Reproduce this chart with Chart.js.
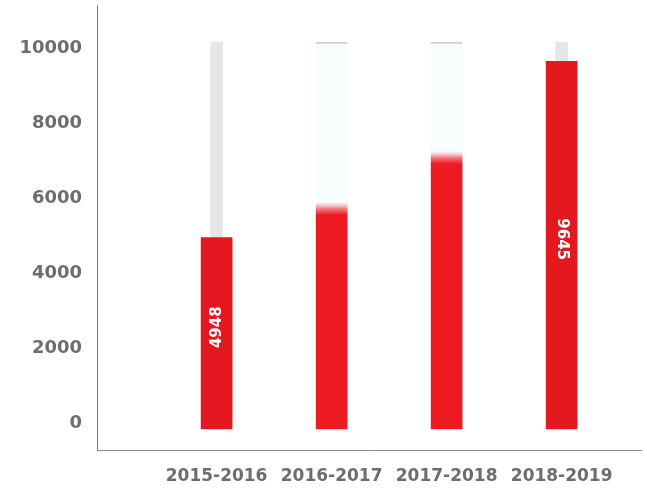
<!DOCTYPE html>
<html>
<head>
<meta charset="utf-8">
<script src="https://cdn.jsdelivr.net/npm/chart.js@4.4.1/dist/chart.umd.min.js"></script>
<style>
  html, body { margin: 0; padding: 0; background: #fff; }
  #wrap { width: 647px; height: 489px; }
</style>
</head>
<body>
<div id="wrap"><canvas id="sales-chart"></canvas></div>
<script>
const seasons = ['2015-2016', '2016-2017', '2017-2018', '2018-2019'];
const totals = [4948, 5870, 7230, 9645];
const trackTop = [10160, 10160, 10160, 10160];
const yTicks = [0, 2000, 4000, 6000, 8000, 10000];
const labelledBars = [0, 3];

const RED = '#e3191f';

// soft fade at the top edge of the middle two bars
function barFill(ctx) {
  const chart = ctx.chart;
  const i = ctx.dataIndex;
  if (!chart.chartArea || (i !== 1 && i !== 2)) return RED;
  const top = chart.scales.y.getPixelForValue(totals[i]);
  const g = chart.ctx.createLinearGradient(0, top, 0, top + 12);
  g.addColorStop(0, 'rgba(245,150,160,0.15)');
  g.addColorStop(0.5, 'rgba(240,60,70,0.7)');
  g.addColorStop(1, '#ee1a22');
  return g;
}

const valueLabels = {
  id: 'valueLabels',
  afterDatasetsDraw(chart) {
    const meta = chart.getDatasetMeta(2);
    const c = chart.ctx;
    labelledBars.forEach(i => {
      const bar = meta.data[i];
      const mid = (bar.y + bar.base) / 2 - 6;
      c.save();
      c.translate(bar.x, mid);
      c.rotate(i === 0 ? -Math.PI / 2 : Math.PI / 2);
      c.fillStyle = '#fff';
      c.font = 'bold 15px "DejaVu Sans"';
      c.textAlign = 'center';
      c.textBaseline = 'middle';
      c.fillText(String(totals[i]), 0, 0);
      c.restore();
    });
  }
};

const pts = arr => arr.map((v, i) => ({ x: i, y: v }));

new Chart(document.getElementById('sales-chart'), {
  type: 'bar',
  data: {
    datasets: [
      {
        // thin grey rail behind first and last bar
        data: pts([trackTop[0], null, null, trackTop[3]]),
        backgroundColor: '#e6e6e6',
        barThickness: 12,
        grouped: false,
        base: -160,
        order: 3
      },
      {
        // pale full-width track behind the middle bars
        data: pts([null, trackTop[1], trackTop[2], null]),
        backgroundColor: '#f7fcfc',
        borderColor: '#cfcfcf',
        borderWidth: { top: 2, left: 0, right: 0, bottom: 0 },
        borderSkipped: false,
        barThickness: 32,
        grouped: false,
        base: -160,
        order: 2
      },
      {
        data: pts(totals),
        backgroundColor: barFill,
        barThickness: 31,
        grouped: false,
        base: -160,
        order: 1
      }
    ]
  },
  options: {
    responsive: true,
    maintainAspectRatio: false,
    animation: false,
    layout: { padding: { top: 5, right: 6, left: 0, bottom: 0 } },
    plugins: { legend: { display: false }, tooltip: { enabled: false } },
    scales: {
      x: {
        type: 'linear',
        offset: false,
        min: -1.04,
        max: 3.69,
        grid: { display: false, drawTicks: false },
        border: { color: '#9a8686', width: 1 },
        afterBuildTicks: s => { s.ticks = seasons.map((_, i) => ({ value: i })); },
        afterFit: s => { s.height = 39; s.paddingLeft = 0; s.paddingRight = 0; },
        ticks: {
          padding: 16,
          color: '#6d6d6d',
          font: { family: 'DejaVu Sans', size: 17, weight: 'bold' },
          callback: v => seasons[v]
        }
      },
      y: {
        min: -720,
        max: 11147,
        grid: { display: false, drawTicks: false },
        border: { color: '#7a7a7a', width: 1 },
        afterBuildTicks: s => { s.ticks = yTicks.map(v => ({ value: v })); },
        afterFit: s => { s.width = 97; s.paddingTop = 0; s.paddingBottom = 0; },
        ticks: {
          padding: 15,
          color: '#6d6d6d',
          font: { family: 'DejaVu Sans', size: 18, weight: 'bold' },
          callback: v => String(v)
        }
      }
    }
  },
  plugins: [valueLabels]
});
</script>
</body>
</html>
